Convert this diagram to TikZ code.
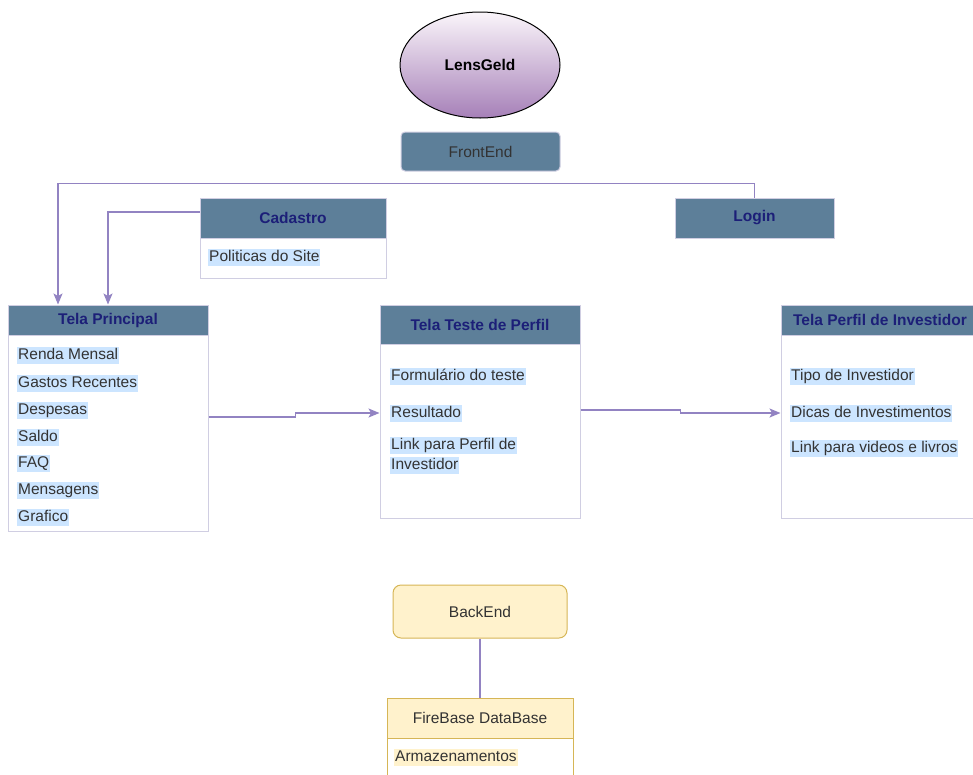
\documentclass[tikz,border=0pt]{standalone}
\usepackage{fontspec}
\setmainfont{Liberation Sans}
\usetikzlibrary{shapes.geometric,arrows.meta}
\definecolor{headblue}{HTML}{5D7F99}
\definecolor{titlenavy}{HTML}{1C1F78}
\definecolor{boxline}{HTML}{D0CEE2}
\definecolor{connline}{HTML}{9283C2}
\definecolor{hilite}{HTML}{CCE5FF}
\definecolor{backfill}{HTML}{FFF2CC}
\definecolor{backline}{HTML}{D6B656}
\definecolor{darktext}{HTML}{333333}
\tikzset{
  every node/.style={font=\fontsize{15.5}{18.5}\selectfont},
  head/.style={rectangle, fill=headblue, draw=boxline, line width=1pt, text=titlenavy, font=\fontsize{15.5}{18.5}\selectfont\bfseries},
  body/.style={rectangle, fill=white, draw=boxline, line width=1pt},
  item/.style={anchor=west, fill=hilite, inner sep=1pt, text height=11.5pt, text depth=3.5pt, text=darktext},
  conn/.style={draw=connline, line width=1.3pt, -{Stealth[length=11pt,width=9pt,inset=2.5pt]}},
  backbox/.style={rectangle, fill=backfill, draw=backline, line width=1pt, text=darktext}
}
\begin{document}
\begin{tikzpicture}[x=1pt, y=-1pt]
            \useasboundingbox (0,0) rectangle (973,774);
            \begin{scope}
            \clip (0,0) rectangle (973,774);

            \node[ellipse, draw=black, line width=1pt, top color=white!90!violet!40, bottom color={rgb,255:red,166;green,128;blue,184}, minimum width=160pt, minimum height=106pt, font=\fontsize{15.5}{18.5}\selectfont\bfseries] (lens) at (480,65) {LensGeld};
            \node[rectangle, rounded corners=4pt, fill=headblue, draw=boxline, line width=1pt, text=darktext, minimum width=159pt, minimum height=39pt] (front) at (480.5,151.5) {FrontEnd};

            \node[head, minimum width=186pt, minimum height=40pt] (cadHead) at (293,218) {Cadastro};
            \node[body, minimum width=186pt, minimum height=40pt] (cadBody) at (293,258) {};
            \node[item] (cadPol) at (208,257) {Politicas do Site};

            \node[head, minimum width=159pt, minimum height=40pt] (login) at (754.5,218) {Login};

            \node[head, minimum width=200pt, minimum height=30pt] (tpHead) at (108,320) {Tela Principal};
            \node[body, minimum width=200pt, minimum height=196pt] (tpBody) at (108,433) {};
            \node[item] (tpRenda) at (17,355) {Renda Mensal};
            \node[item] (tpGastos) at (17,383) {Gastos Recentes};
            \node[item] (tpDesp) at (17,410) {Despesas};
            \node[item] (tpSaldo) at (17,437) {Saldo};
            \node[item] (tpFaq) at (17,463.5) {FAQ};
            \node[item] (tpMsg) at (17,490) {Mensagens};
            \node[item] (tpGraf) at (17,517) {Grafico};

            \node[head, minimum width=200pt, minimum height=39pt] (ttHead) at (480,324.5) {Tela Teste de Perfil};
            \node[body, minimum width=200pt, minimum height=174pt] (ttBody) at (480,431) {};
            \node[item] (ttForm) at (390,376) {Formulário do teste};
            \node[item] (ttRes) at (390,413) {Resultado};
            \node[item] (ttLinkA) at (390,445) {Link para Perfil de};
            \node[item] (ttLinkB) at (390,465) {Investidor};

            \node[head, minimum width=198pt, minimum height=30pt] (piHead) at (880,320) {Tela Perfil de Investidor};
            \node[body, minimum width=198pt, minimum height=183pt] (piBody) at (880,426.5) {};
            \node[item] (piTipo) at (790,376) {Tipo de Investidor};
            \node[item] (piDicas) at (790,413) {Dicas de Investimentos};
            \node[item] (piLink) at (790,448.5) {Link para videos e livros};

            \node[backbox, rounded corners=8pt, minimum width=174pt, minimum height=53pt] (back) at (480,611.5) {BackEnd};
            \node[backbox, minimum width=186pt, minimum height=40pt] (fbHead) at (480,718) {FireBase DataBase};
            \node[body, draw=backline, minimum width=186pt, minimum height=62pt] (fbBody) at (480,769) {};
            \node[item, fill=backfill] (fbArm) at (394,757) {Armazenamentos};

            \draw[conn] (login.north) -- ++(0,-14) -| ([xshift=-50pt]tpHead.north);
            \draw[conn] ([yshift=6pt]cadHead.west) -| (tpHead.north);
            \draw[conn] ([yshift=16pt]tpBody.east) -- ++(87,0) |- ([yshift=18pt]ttBody.west);
            \draw[conn] ([yshift=21pt]ttBody.east) -- ++(100,0) |- ([yshift=13.5pt]piBody.west);
            \draw[draw=connline, line width=1.3pt] (back.south) -- (fbHead.north);
            \end{scope}
        \end{tikzpicture}
\end{document}
